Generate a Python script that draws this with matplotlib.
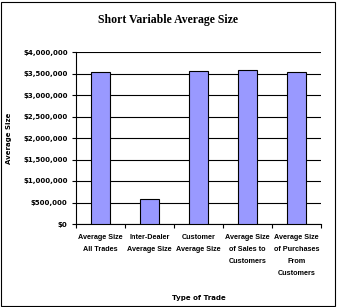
import numpy as np
import matplotlib
matplotlib.use('Agg')
import matplotlib.pyplot as plt
from matplotlib.patches import Rectangle
from matplotlib.ticker import FuncFormatter, MultipleLocator

categories = ['Average Size\nAll Trades', 'Inter-Dealer\nAverage Size', 'Customer\nAverage Size',
              'Average Size\nof Sales to\nCustomers', 'Average Size\nof Purchases\nFrom\nCustomers']
avg_size = [3530000, 575000, 3560000, 3580000, 3530000]

BAR_COLOR = '#9999FF'

plt.rc('font', family='DejaVu Sans', weight='bold', size=5)

fig = plt.figure(figsize=(3.37, 3.07), dpi=100)
W, H = 337, 307
ax = fig.add_axes([76 / W, 1 - 224 / H, 245 / W, 172 / H])

ind = np.arange(len(categories))
ax.bar(ind, avg_size, 0.39, color=BAR_COLOR, edgecolor='black', linewidth=0.8, zorder=3)

ax.set_xlim(-0.5, len(categories) - 0.5)
ax.set_ylim(0, 4000000)
ax.yaxis.set_major_locator(MultipleLocator(500000))
ax.yaxis.set_major_formatter(FuncFormatter(lambda v, p: '${:,.0f}'.format(v)))
ax.yaxis.grid(True, color='black', linewidth=0.8, zorder=0)

ax.set_xticks(np.arange(-0.5, len(categories) + 0.5, 1))
ax.set_xticklabels([])
ax.set_xticks(ind, minor=True)
ax.set_xticklabels(categories, minor=True, linespacing=2.0, va='top',
                   family='Liberation Sans', fontsize=5.2, fontweight='bold')
ax.tick_params(axis='x', which='minor', length=0, pad=7)
ax.tick_params(axis='x', which='major', length=3, width=0.8, direction='out')
ax.tick_params(axis='y', length=3, width=0.8, direction='out', pad=3)

for s in ['top', 'right']:
    ax.spines[s].set_visible(False)
for s in ['left', 'bottom']:
    ax.spines[s].set_linewidth(0.8)

ax.set_xlabel('Type of Trade', fontsize=5, fontweight='bold', labelpad=0)
ax.xaxis.set_label_coords(0.5, (224 - 295) / 172)
ax.set_ylabel('Average Size', fontsize=5, fontweight='bold')
ax.yaxis.set_label_coords(-(76 - 12) / 245, 0.5)

fig.text(0.5, 1 - 20 / H, 'Short Variable Average Size', ha='center', va='center',
         family='Liberation Serif', fontsize=8.5, fontweight='bold')

fig.patches.append(Rectangle((1 / W, 1 / H), (W - 3) / W, (H - 3) / H, transform=fig.transFigure,
                             fill=False, edgecolor='black', linewidth=0.8))

fig.savefig('out.png', dpi=100)
